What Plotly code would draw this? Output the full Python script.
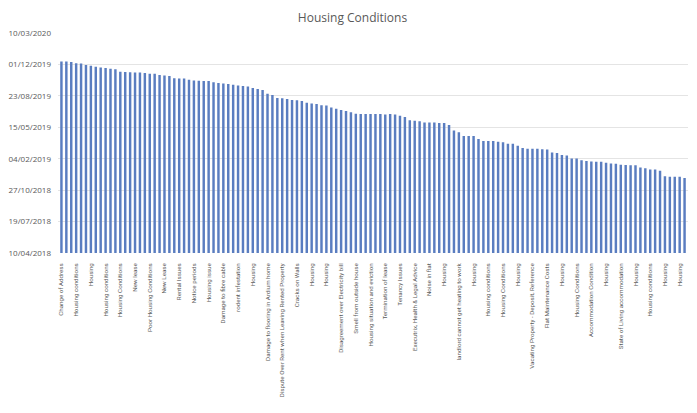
import plotly.graph_objects as go

# dates, une par barre (ordre decroissant)
dates = [
    "2019-12-10", "2019-12-10", "2019-12-09", "2019-12-05", "2019-12-04", "2019-11-29", "2019-11-27", "2019-11-24",
    "2019-11-21", "2019-11-20", "2019-11-17", "2019-11-16", "2019-11-08", "2019-11-07", "2019-11-06", "2019-11-05",
    "2019-11-05", "2019-11-04", "2019-11-01", "2019-11-01", "2019-10-28", "2019-10-27", "2019-10-25", "2019-10-18",
    "2019-10-17", "2019-10-17", "2019-10-13", "2019-10-11", "2019-10-10", "2019-10-09", "2019-10-09", "2019-10-05",
    "2019-10-03", "2019-10-01", "2019-09-30", "2019-09-27", "2019-09-25", "2019-09-23", "2019-09-22", "2019-09-17",
    "2019-09-14", "2019-09-11", "2019-08-30", "2019-08-26", "2019-08-16", "2019-08-15", "2019-08-13", "2019-08-10",
    "2019-08-09", "2019-08-07", "2019-08-01", "2019-07-30", "2019-07-28", "2019-07-24", "2019-07-23", "2019-07-17",
    "2019-07-13", "2019-07-09", "2019-07-06", "2019-07-02", "2019-06-27", "2019-06-26", "2019-06-26", "2019-06-26",
    "2019-06-26", "2019-06-26", "2019-06-25", "2019-06-26", "2019-06-25", "2019-06-21", "2019-06-17", "2019-06-06",
    "2019-06-05", "2019-06-03", "2019-05-30", "2019-05-30", "2019-05-30", "2019-05-29", "2019-05-29", "2019-05-22",
    "2019-05-05", "2019-04-29", "2019-04-17", "2019-04-17", "2019-04-17", "2019-04-08", "2019-04-01", "2019-04-01",
    "2019-04-01", "2019-03-30", "2019-03-28", "2019-03-24", "2019-03-24", "2019-03-17", "2019-03-10", "2019-03-08",
    "2019-03-08", "2019-03-08", "2019-03-06", "2019-03-05", "2019-02-24", "2019-02-22", "2019-02-16", "2019-02-14",
    "2019-02-05", "2019-02-05", "2019-01-30", "2019-01-28", "2019-01-26", "2019-01-25", "2019-01-25", "2019-01-22",
    "2019-01-20", "2019-01-19", "2019-01-16", "2019-01-15", "2019-01-14", "2019-01-14", "2019-01-07", "2019-01-05",
    "2019-01-01", "2019-01-01", "2018-12-28", "2018-12-10", "2018-12-09", "2018-12-09", "2018-12-09", "2018-12-05",
]

# libelles visibles (une barre sur trois)
labels = [
    "Change of Address", "Housing conditions", "Housing", "Housing conditions", "Housing Conditions",
    "New lease", "Poor Housing Conditions", "New Lease", "Rental Issues", "Notice periods",
    "Housing issue", "Damage to fibre cable", "rodent infestation", "Housing",
    "Damage to flooring in Ardium home", "Dispute Over Rent when Leaving Rented Property",
    "Cracks on Walls", "Housing", "Housing", "Disagreement over Electricity bill",
    "Smell from outside house", "Housing situation and eviction", "Termination of lease",
    "Tenancy Issues", "Executrix, Health & Legal Advice", "Noise in flat", "Housing",
    "landlord cannot get heating to work", "Housing", "Housing conditions", "Housing Conditions",
    "Housing", "Vacating Property - Deposit, Reference", "Flat Maintenance Costs", "Housing",
    "Housing Conditions", "Accommodation Condition", "Housing", "State of Living accommodation",
    "Housing", "Housing conditions", "Housing", "Housing",
]

y_ticks = ["2018-04-10", "2018-07-19", "2018-10-27", "2019-02-04",
           "2019-05-15", "2019-08-23", "2019-12-01", "2020-03-10"]
y_text = ["10/04/2018", "19/07/2018", "27/10/2018", "04/02/2019",
          "15/05/2019", "23/08/2019", "01/12/2019", "10/03/2020"]

x = list(range(len(dates)))
label_pos = x[::3][:len(labels)]

fig = go.Figure(go.Bar(
    x=x,
    y=dates,
    width=0.5,
    marker=dict(color="#5a7dc0", line=dict(width=0)),
))

# la page ajoute 8px de marge au body : figure reduite d'autant
fig.update_layout(
    title=dict(text="Housing Conditions", x=0.5, xanchor="center", y=0.985,
               font=dict(family="Open Sans", size=12, color="#595959")),
    width=689,
    height=405,
    margin=dict(l=50, r=9, t=25, b=160, autoexpand=False),
    paper_bgcolor="white",
    plot_bgcolor="white",
    showlegend=False,
    xaxis=dict(
        tickmode="array",
        tickvals=label_pos,
        ticktext=labels,
        tickangle=-90,
        tickfont=dict(family="Roboto", size=6.2, color="#595959"),
        ticklabelstandoff=8,
        range=[-0.7, len(dates) - 0.3],
        showgrid=False,
        zeroline=False,
        ticks="",
        automargin=False,
    ),
    yaxis=dict(
        type="date",
        range=["2018-04-10", "2020-03-10"],
        tickmode="array",
        tickvals=y_ticks,
        ticktext=y_text,
        tickfont=dict(family="Open Sans", size=8, color="#595959"),
        ticklabelstandoff=6,
        showgrid=True,
        gridcolor="#e4e4e4",
        gridwidth=1,
        zeroline=False,
        ticks="",
        automargin=False,
    ),
)

fig.write_html("out.html")
